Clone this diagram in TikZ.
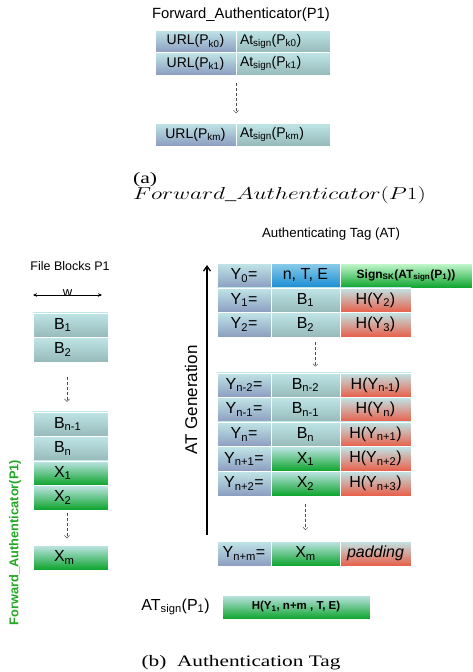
\documentclass[tikz,border=0pt]{standalone}
\usepackage[no-math]{fontspec}
\setmainfont{Liberation Serif}
\setsansfont{Liberation Sans}
\usepackage{graphicx}
\usetikzlibrary{arrows.meta,positioning,calc}
\definecolor{cellTop}{RGB}{192, 229, 231}
\definecolor{yBot}{RGB}{140, 157, 192}
\definecolor{blkBot}{RGB}{150, 186, 185}
\definecolor{grnBot}{RGB}{12, 164, 44}
\definecolor{redBot}{RGB}{233, 94, 72}
\definecolor{bluTop}{RGB}{140, 204, 234}
\definecolor{bluBot}{RGB}{24, 140, 210}
\definecolor{inkGreen}{RGB}{34, 168, 34}
\newcommand{\dn}[1]{\textsubscript{#1}}
\newcommand{\fs}[1]{\fontsize{#1}{#1}\selectfont}

\tikzset{
  cell/.style={inner sep=0pt, outer sep=0pt, draw=white, line width=0.4pt},
  ucell/.style={cell, top color=cellTop, bottom color=yBot, minimum width=81pt, minimum height=22.5pt, font=\sffamily\fs{14}},
  acell/.style={cell, top color=cellTop, bottom color=blkBot, minimum height=22.5pt, inner xsep=4pt, text width=86pt, align=left, font=\sffamily\fs{14}},
  blk/.style={cell, top color=cellTop, bottom color=blkBot, minimum height=24.5pt, inner xsep=21pt, text width=33pt, align=left, font=\sffamily\fs{16}},
  xblk/.style={blk, bottom color=grnBot},
  ycell/.style={cell, top color=cellTop, bottom color=yBot, minimum width=54pt, minimum height=24.6pt, font=\sffamily\fs{16}},
  mcell/.style={cell, top color=cellTop, bottom color=blkBot, minimum width=69pt, minimum height=24.6pt, font=\sffamily\fs{16}},
  xcell/.style={mcell, bottom color=grnBot},
  hcell/.style={cell, top color=cellTop, bottom color=redBot, minimum width=71pt, minimum height=24.6pt, font=\sffamily\fs{16}},
  dasharrow/.style={densely dashed, line width=0.5pt, draw=black!70, -{Straight Barb[length=2.5pt,width=5pt]}},
  label/.style={font=\sffamily\fs{14}, inner sep=0pt}
}

\begin{document}
\begin{tikzpicture}[x=1pt, y=-1pt]
  \useasboundingbox (0,0) rectangle (472,672);

  % (a) forward authenticator
  \node[label, anchor=base, font=\sffamily\fs{14.8}] (fwdtitle) at (241,18.5) {Forward\_Authenticator(P1)};
  \node[ucell] (u0) at (195.5,41.25) {URL(P\dn{k0})};
  \node[acell, right=0pt of u0] (a0) {At\dn{sign}(P\dn{k0})};
  \node[ucell, below=0pt of u0] (u1) {URL(P\dn{k1})};
  \node[acell, right=0pt of u1] (a1) {At\dn{sign}(P\dn{k1})};
  \node[ucell] (um) at (195.5,134.5) {URL(P\dn{km})};
  \node[acell, right=0pt of um] (am) {At\dn{sign}(P\dn{km})};
  \draw[dasharrow, shorten <=8pt, shorten >=10pt] (a1.south west) -- (am.north west);

  \node[anchor=base west, inner sep=0pt, font=\fs{16}] (capa) at (133,183) {\scalebox{1.35}[1]{(a)}};
  \node[anchor=base west, inner sep=0pt, font=\fs{16.5}] (capamath) at (133,199) {\scalebox{1.355}[1]{$Forward\_Authenticator(P1)$}};

  % (b) file blocks
  \node[label, anchor=base, font=\sffamily\fs{12.5}] (fbtitle) at (70,270) {File Blocks P1};
  \coordinate (wl) at (33,295);
  \coordinate (wr) at (102,295);
  \draw[line width=0.5pt, {Stealth[length=4pt,width=3.5pt]}-{Stealth[length=4pt,width=3.5pt]}] (wl) -- node[above=-1.5pt, font=\sffamily\fs{13}, inner sep=0pt] {w} (wr);
  \node[blk] (b1) at (70.5,325) {B\dn{1}};
  \node[blk, below=0pt of b1] (b2) {B\dn{2}};
  \node[blk] (bn1) at (70.5,424) {B\dn{n-1}};
  \node[blk, below=0pt of bn1] (bn) {B\dn{n}};
  \node[xblk, below=0pt of bn] (x1) {X\dn{1}};
  \node[xblk, below=0pt of x1] (x2) {X\dn{2}};
  \node[xblk] (xm) at (70.5,557.5) {X\dn{m}};
  \draw[dasharrow, shorten <=15pt, shorten >=10pt] ([xshift=-3.5pt]b2.south) -- ([xshift=-3.5pt]bn1.north);
  \draw[dasharrow, shorten <=3pt, shorten >=7pt] ([xshift=-3.5pt]x2.south) -- ([xshift=-3.5pt]xm.north);
  \node[rotate=90, inner sep=0pt, text=inkGreen, font=\sffamily\bfseries\fs{12.8}] (fwdside) at (15,542.5) {Forward\_Authenticator(P1)};

  % (b) authenticating tag
  \node[label, anchor=base, font=\sffamily\fs{13.3}] (attitle) at (331,237) {Authenticating Tag (AT)};
  \node[ycell] (y0) at (244,275.5) {Y\dn{0}=};
  \node[mcell, right=0pt of y0, top color=bluTop, bottom color=bluBot] (m0) {n, T, E};
  \node[cell, right=0pt of m0, top color=cellTop!60!green!40, bottom color=grnBot, minimum width=132pt, minimum height=24.6pt, font=\sffamily\bfseries\fs{12}] (s0) {Sign\dn{SK}(AT\dn{sign}(P\dn{1}))};
  \node[ycell, below=0pt of y0] (y1) {Y\dn{1}=};
  \node[mcell, right=0pt of y1] (m1) {B\dn{1}};
  \node[hcell, right=0pt of m1] (h1) {H(Y\dn{2})};
  \node[ycell, below=0pt of y1] (y2) {Y\dn{2}=};
  \node[mcell, right=0pt of y2] (m2) {B\dn{2}};
  \node[hcell, right=0pt of m2] (h2) {H(Y\dn{3})};

  \node[ycell] (yn2) at (244,385) {Y\dn{n-2}=};
  \node[mcell, right=0pt of yn2] (mn2) {B\dn{n-2}};
  \node[hcell, right=0pt of mn2] (hn2) {H(Y\dn{n-1})};
  \node[ycell, below=0pt of yn2] (yn1) {Y\dn{n-1}=};
  \node[mcell, right=0pt of yn1] (mn1) {B\dn{n-1}};
  \node[hcell, right=0pt of mn1] (hn1) {H(Y\dn{n})};
  \node[ycell, below=0pt of yn1] (yn) {Y\dn{n}=};
  \node[mcell, right=0pt of yn] (mn) {B\dn{n}};
  \node[hcell, right=0pt of mn] (hn) {H(Y\dn{n+1})};
  \node[ycell, below=0pt of yn] (yp1) {Y\dn{n+1}=};
  \node[xcell, right=0pt of yp1] (mp1) {X\dn{1}};
  \node[hcell, right=0pt of mp1] (hp1) {H(Y\dn{n+2})};
  \node[ycell, below=0pt of yp1] (yp2) {Y\dn{n+2}=};
  \node[xcell, right=0pt of yp2] (mp2) {X\dn{2}};
  \node[hcell, right=0pt of mp2] (hp2) {H(Y\dn{n+3})};

  \node[ycell] (ypm) at (244,553.5) {Y\dn{n+m}=};
  \node[xcell, right=0pt of ypm] (mpm) {X\dn{m}};
  \node[hcell, right=0pt of mpm] (hpm) {\itshape padding};

  \draw[dasharrow, shorten <=5pt, shorten >=6pt] ([xshift=10pt]m2.south) -- ([xshift=10pt]mn2.north);
  \draw[dasharrow, shorten <=8pt, shorten >=11pt] (mp2.south) -- (mpm.north);

  \coordinate (genbot) at (207,535);
  \coordinate (gentop) at (207,265);
  \draw[line width=1.3pt, -{Straight Barb[length=5pt,width=7pt]}] (genbot) -- node[sloped, above=9pt, inner sep=0pt, font=\sffamily\fs{17}] {AT Generation} (gentop);

  \node[cell, top color=cellTop, bottom color=grnBot, minimum width=148pt, minimum height=24pt, font=\sffamily\bfseries\fs{11.5}] (atbox) at (296,607) {H(Y\dn{1}, n+m , T, E)};
  \node[label, font=\sffamily\fs{16}, left=12pt of atbox] (atlabel) {AT\dn{sign}(P\dn{1})};

  \node[anchor=base, inner sep=0pt, font=\fs{16}] (capb) at (241,666) {\scalebox{1.33}[1]{(b)~~Authentication Tag}};
\end{tikzpicture}
\end{document}
